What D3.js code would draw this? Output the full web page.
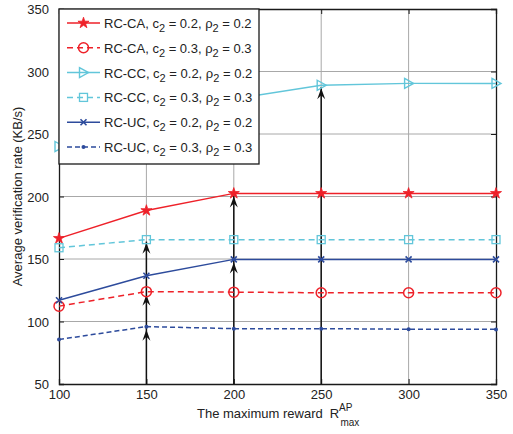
<!DOCTYPE html>
<html>
<head>
<meta charset="utf-8">
<script src="https://cdnjs.cloudflare.com/ajax/libs/d3/7.8.5/d3.min.js"></script>
<style>
body { margin: 0; background: #fff; }
text { font-family: "Liberation Sans", Arial, sans-serif; fill: #222; }
</style>
</head>
<body>
<script>
var w = 513, h = 434;
var margin = {top: 9, right: 17, bottom: 50, left: 59};

// data
var xVals  = [100, 150, 200, 250, 300, 350];
var caLow  = [166.5, 188.8, 202.5, 202.5, 202.5, 202.5];
var caHigh = [112.3, 123.9, 123.5, 123, 123, 123];
var ccLow  = [240, 262, 278, 289, 290.5, 290.5];
var ccHigh = [159, 165.5, 165.5, 165.5, 165.5, 165.5];
var ucLow  = [117, 136.6, 149.7, 149.7, 149.7, 149.7];
var ucHigh = [85.6, 95.9, 94.3, 94.3, 93.8, 93.7];
var xTicks = [100, 150, 200, 250, 300, 350];
var yTicks = [50, 100, 150, 200, 250, 300, 350];
var arrowX = [150, 200, 250];
var arrowStops = [[95.9, 123.9, 165.5], [149.7, 202.5], [289]];

var red = "#ee2129", cyan = "#62c6da", blue = "#2d4b9c";

var series = [
	{name: "RC-CA", c: "0.2", values: caLow,  color: red,  dash: null,  marker: "star"},
	{name: "RC-CA", c: "0.3", values: caHigh, color: red,  dash: "6,4", marker: "circle"},
	{name: "RC-CC", c: "0.2", values: ccLow,  color: cyan, dash: null,  marker: "triangle"},
	{name: "RC-CC", c: "0.3", values: ccHigh, color: cyan, dash: "6,4", marker: "square"},
	{name: "RC-UC", c: "0.2", values: ucLow,  color: blue, dash: null,  marker: "cross"},
	{name: "RC-UC", c: "0.3", values: ucHigh, color: blue, dash: "5,3", marker: "dot"}
];

var svg = d3.select("body").append("svg")
	.attr("width", w)
	.attr("height", h);

var x = d3.scaleLinear().domain([100, 350]).range([margin.left, w - margin.right]);
var y = d3.scaleLinear().domain([50, 350]).range([h - margin.bottom, margin.top]);

// grid
svg.append("g").selectAll("line")
	.data(xTicks.slice(1, -1))
	.enter().append("line")
	.attr("x1", function(d){ return x(d); }).attr("x2", function(d){ return x(d); })
	.attr("y1", y(50)).attr("y2", y(350))
	.style("stroke", "#a8a8a8").style("stroke-width", 1);
svg.append("g").selectAll("line")
	.data(yTicks.slice(1, -1))
	.enter().append("line")
	.attr("y1", function(d){ return y(d); }).attr("y2", function(d){ return y(d); })
	.attr("x1", x(100)).attr("x2", x(350))
	.style("stroke", "#a8a8a8").style("stroke-width", 1);

// axes with inward ticks
var xAxis = svg.append("g")
	.attr("transform", "translate(0," + y(50) + ")")
	.call(d3.axisBottom(x).tickValues(xTicks).tickSize(-5).tickPadding(9));
var xAxisTop = svg.append("g")
	.attr("transform", "translate(0," + y(350) + ")")
	.call(d3.axisTop(x).tickValues(xTicks).tickSize(-5).tickFormat(""));
var yAxis = svg.append("g")
	.attr("transform", "translate(" + x(100) + ",0)")
	.call(d3.axisLeft(y).tickValues(yTicks).tickSize(-5).tickPadding(8));
var yAxisRight = svg.append("g")
	.attr("transform", "translate(" + x(350) + ",0)")
	.call(d3.axisRight(y).tickValues(yTicks).tickSize(-5).tickFormat(""));

[xAxis, xAxisTop, yAxis, yAxisRight].forEach(function(a){
	a.select(".domain").style("stroke", "#1a1a1a").style("stroke-width", 1.3);
	a.selectAll(".tick line").style("stroke", "#1a1a1a");
	a.selectAll("text").style("font-size", "13px").style("font-family", "Liberation Sans, Arial, sans-serif").style("fill", "#222");
});
xAxis.selectAll("text").attr("dy", "0.45em");
yAxis.selectAll("text").attr("dx", "-2").attr("dy", "0.35em");

// arrows
function arrowHead(g, cx, cy) {
	g.append("path")
		.attr("d", "M" + cx + "," + cy + " L" + (cx - 4) + "," + (cy + 11) +
			" L" + cx + "," + (cy + 7) + " L" + (cx + 4) + "," + (cy + 11) + " Z")
		.style("fill", "#111");
}
var arrows = svg.append("g");
arrowX.forEach(function(ax, i){
	var stops = arrowStops[i];
	arrows.append("line")
		.attr("x1", x(ax)).attr("x2", x(ax))
		.attr("y1", y(50)).attr("y2", y(stops[stops.length - 1]) + 2)
		.style("stroke", "#111").style("stroke-width", 1.5);
	stops.forEach(function(s){
		arrowHead(arrows, x(ax), y(s) + 3);
	});
});

// lines
var line = d3.line()
	.x(function(d, i){ return x(xVals[i]); })
	.y(function(d){ return y(d); });

var star = d3.symbol().type(d3.symbolStar).size(38);
var tri = "M-4,-5 L5,0 L-4,5 Z";

function drawMarker(g, type, color) {
	if (type == "star") {
		g.append("path").attr("d", star).style("fill", color).style("stroke", color).style("stroke-width", 0.8);
	} else if (type == "circle") {
		g.append("circle").attr("r", 5).style("fill", "none").style("stroke", color).style("stroke-width", 1.5);
	} else if (type == "triangle") {
		g.append("path").attr("d", tri).style("fill", "none").style("stroke", color).style("stroke-width", 1.4);
	} else if (type == "square") {
		g.append("rect").attr("x", -4).attr("y", -4).attr("width", 8).attr("height", 8)
			.style("fill", "none").style("stroke", color).style("stroke-width", 1.3);
	} else if (type == "cross") {
		g.append("path").attr("d", "M-3,-3 L3,3 M-3,3 L3,-3").style("stroke", color).style("stroke-width", 1.6);
	} else if (type == "dot") {
		g.append("circle").attr("r", 2).style("fill", color);
	}
}

series.forEach(function(s){
	svg.append("path")
		.datum(s.values)
		.attr("d", line)
		.style("fill", "none")
		.style("stroke", s.color)
		.style("stroke-width", 1.5)
		.style("stroke-dasharray", s.dash);
	s.values.forEach(function(v, i){
		var g = svg.append("g").attr("transform", "translate(" + x(xVals[i]) + "," + y(v) + ")");
		drawMarker(g, s.marker, s.color);
	});
});

// legend
var legend = svg.append("g").attr("transform", "translate(" + x(100) + "," + y(350) + ")");
legend.append("rect")
	.attr("x", 0).attr("y", 0)
	.attr("width", 200).attr("height", 155)
	.style("fill", "#fff").style("stroke", "#1a1a1a").style("stroke-width", 1.3);

series.forEach(function(s, i){
	var ly = 14 + i * 24.8;
	legend.append("line")
		.attr("x1", 8).attr("x2", 41).attr("y1", ly).attr("y2", ly)
		.style("stroke", s.color).style("stroke-width", 1.5)
		.style("stroke-dasharray", s.dash);
	var g = legend.append("g").attr("transform", "translate(24.5," + ly + ")");
	drawMarker(g, s.marker, s.color);
	var t = legend.append("text")
		.attr("x", 45).attr("y", ly + 5)
		.style("font-size", "13px");
	t.append("tspan").text(s.name + ", c");
	t.append("tspan").attr("dy", 4).style("font-size", "11px").text("2");
	t.append("tspan").attr("dy", -4).text(" = " + s.c + ", \u03c1");
	t.append("tspan").attr("dy", 4).style("font-size", "11px").text("2");
	t.append("tspan").attr("dy", -4).text(" = " + s.c);
});

// axis titles
svg.append("text")
	.attr("transform", "translate(22," + (y(200)) + ") rotate(-90)")
	.attr("text-anchor", "middle")
	.style("font-size", "13px")
	.text("Average verification rate (KB/s)");

var xt = svg.append("text")
	.attr("x", 197).attr("y", 418)
	.style("font-size", "13px");
xt.append("tspan").text("The maximum reward");
xt.append("tspan").attr("dx", 7).text("R");
xt.append("tspan").attr("dy", -7).style("font-size", "10px").text("AP");
xt.append("tspan").attr("dx", -12).attr("dy", 15).style("font-size", "10px").text("max");
</script>
</body>
</html>
